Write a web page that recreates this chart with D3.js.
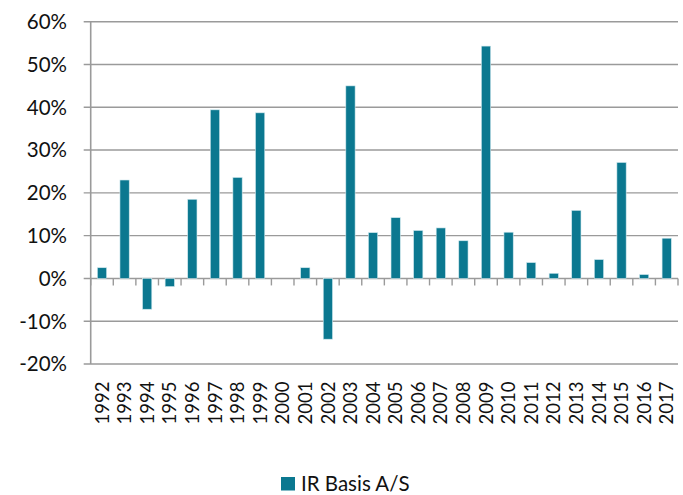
<!DOCTYPE html>
<html>
<head>
<meta charset="utf-8">
<script src="https://cdn.jsdelivr.net/npm/d3@7"></script>
<style>
  body { margin: 0; background: #fff; }
  text { font-family: Lato, "Noto Sans", sans-serif; fill: #111; }
</style>
</head>
<body>
<div id="chart"></div>
<script>
var w = 683;
var h = 495;

var years = ["1992","1993","1994","1995","1996","1997","1998","1999","2000","2001","2002","2003","2004",
             "2005","2006","2007","2008","2009","2010","2011","2012","2013","2014","2015","2016","2017"];
var returns = [2.5, 23.0, -7.2, -1.9, 18.5, 39.4, 23.6, 38.7, 0, 2.5, -14.2, 45.0, 10.7,
               14.2, 11.2, 11.8, 8.8, 54.3, 10.8, 3.7, 1.2, 15.9, 4.4, 27.1, 0.9, 9.4];
var yTicks = [-20, -10, 0, 10, 20, 30, 40, 50, 60];
var seriesName = "IR Basis A/S";

var barColor = "#0b7890";
var gridColor = "#9a9a9a";

var svg = d3.select("#chart").append("svg")
            .attr("width", w)
            .attr("height", h);

var x = d3.scaleBand()
          .domain(years)
          .range([90.7, 678])
          .paddingInner(0.59)
          .paddingOuter(0.295);

var y = d3.scaleLinear()
          .domain([-20, 60])
          .range([364, 21.7]);

var step = x.step();
var left = x.range()[0];
var right = x.range()[1];

// gridlines + y ticks
svg.selectAll("line.grid")
   .data(yTicks)
   .enter()
   .append("line")
   .attr("class", "grid")
   .attr("x1", left - 7)
   .attr("x2", right)
   .attr("y1", function(d) { return y(d); })
   .attr("y2", function(d) { return y(d); })
   .attr("stroke", gridColor)
   .attr("stroke-width", 1.4);

svg.selectAll("text.ylab")
   .data(yTicks)
   .enter()
   .append("text")
   .attr("class", "ylab")
   .attr("x", 67)
   .attr("y", function(d) { return y(d); })
   .attr("dy", "0.36em")
   .attr("text-anchor", "end")
   .style("font-size", "20.5px")
   .text(function(d) { return d + "%"; });

// bars
svg.selectAll("rect.bar")
   .data(returns)
   .enter()
   .append("rect")
   .attr("class", "bar")
   .attr("x", function(d, i) { return x(years[i]); })
   .attr("width", x.bandwidth())
   .attr("y", function(d) { return y(Math.max(0, d)); })
   .attr("height", function(d) { return Math.abs(y(d) - y(0)); })
   .attr("fill", barColor)
   .attr("stroke", "#cfe8ee")
   .attr("stroke-width", 0.6);

// left axis line
svg.append("line")
   .attr("x1", left).attr("x2", left)
   .attr("y1", y(60)).attr("y2", y(-20))
   .attr("stroke", gridColor)
   .attr("stroke-width", 1.6);

// x axis ticks at category boundaries
svg.selectAll("line.xtick")
   .data(d3.range(years.length + 1))
   .enter()
   .append("line")
   .attr("class", "xtick")
   .attr("x1", function(d) { return left + d * step; })
   .attr("x2", function(d) { return left + d * step; })
   .attr("y1", y(0))
   .attr("y2", y(0) + 7)
   .attr("stroke", gridColor)
   .attr("stroke-width", 1.4);

// x labels
svg.selectAll("text.xlab")
   .data(years)
   .enter()
   .append("text")
   .attr("class", "xlab")
   .attr("transform", function(d) {
     return "translate(" + (x(d) + x.bandwidth() / 2) + ",381.5) rotate(-90)";
   })
   .attr("dy", "0.36em")
   .attr("text-anchor", "end")
   .style("font-size", "18.5px")
   .text(function(d) { return d; });

// legend
var legend = svg.append("g").attr("transform", "translate(281,477)");
legend.append("rect")
      .attr("width", 14)
      .attr("height", 13.5)
      .attr("fill", barColor);
legend.append("text")
      .attr("x", 20)
      .attr("y", 14)
      .style("font-size", "20.5px")
      .text(seriesName);
</script>
</body>
</html>
